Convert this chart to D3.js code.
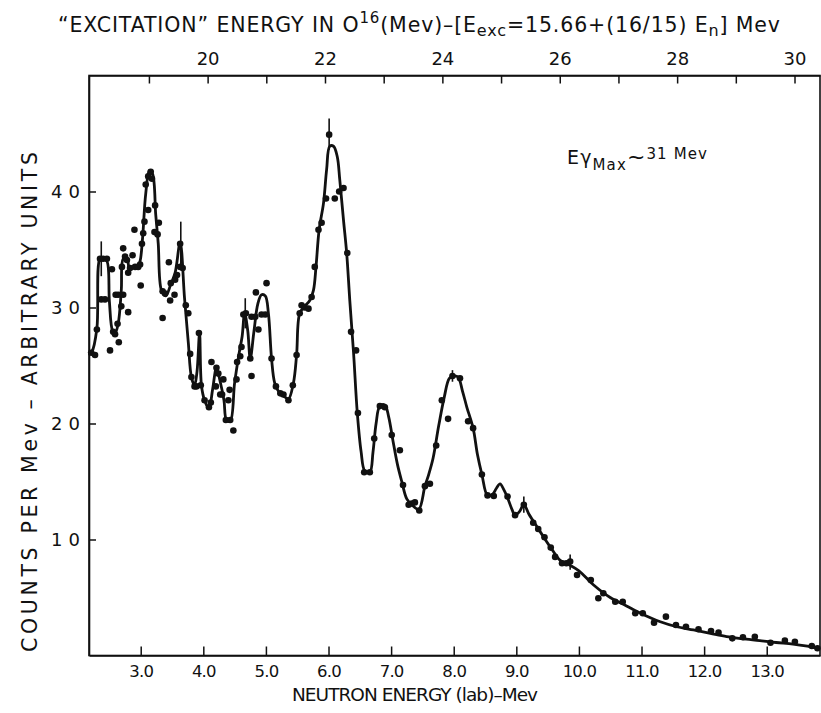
<!DOCTYPE html>
<html>
<head>
<meta charset="utf-8">
<script src="https://cdn.jsdelivr.net/npm/d3@7"></script>
<style>
  body { margin: 0; background: #fff; }
  text { font-family: "DejaVu Sans", sans-serif; fill: #111; }
</style>
</head>
<body>
<div id="app"></div>
<script>
// neutron energy (lab, MeV) and counts for the measured points
const pointEn = [
  2.21, 2.27, 2.30, 2.35, 2.40, 2.46, 2.37, 2.43, 2.51, 2.54, 2.56, 2.59, 2.60, 2.63, 2.64, 2.65,
  2.69, 2.70, 2.72, 2.72, 2.75, 2.78, 2.80, 2.80, 2.83, 2.87, 2.90, 2.91, 2.96, 2.99, 3.00, 3.02,
  3.04, 3.06, 3.08, 3.12, 3.16, 3.18, 3.12, 3.23, 3.29, 3.22, 3.27, 3.35, 3.39, 3.35, 3.45, 3.47,
  3.48, 3.54, 3.55, 3.58, 3.63, 3.63, 3.67, 3.72, 3.76, 3.79, 3.81, 3.86, 3.89, 3.93, 3.96, 4.02,
  4.09, 4.12, 4.13, 4.20, 4.21, 4.24, 4.27, 4.30, 4.32, 4.40, 4.36, 4.43, 4.42, 4.48, 4.53, 4.54,
  4.59, 4.61, 4.64, 4.68, 4.75, 4.77, 4.77, 4.83, 4.84, 4.88, 4.93, 4.99, 5.01, 5.09, 5.16, 5.23,
  5.28, 5.36, 5.43, 5.49, 5.54, 5.57, 5.62, 5.68, 5.73, 5.78, 5.84, 5.89, 5.96, 6.01, 6.10, 6.17,
  6.24, 6.30, 6.36, 6.44, 6.47, 6.57, 6.66, 6.73, 6.82, 6.90, 7.01, 7.14, 7.19, 7.28, 7.33, 7.38,
  7.45, 7.54, 7.62, 7.72, 7.81, 7.91, 7.98, 8.10, 8.23, 8.31, 8.45, 8.54, 8.64, 8.86, 8.98, 9.12,
  9.27, 9.35, 9.45, 9.55, 9.62, 9.73, 9.80, 9.86, 9.97, 10.19, 10.31, 10.39, 10.58, 10.70, 10.90, 11.02,
  11.20, 11.39, 11.55, 11.71, 11.91, 12.11, 12.23, 12.45, 12.62, 12.81, 13.06, 13.29, 13.45, 13.72, 13.81
];
const pointCounts = [
  26.1, 25.9, 28.1, 34.2, 34.2, 34.2, 30.7, 30.7, 26.3, 33.3, 27.9, 27.7, 31.1, 28.6, 31.1, 27.0,
  30.1, 33.5, 35.1, 31.1, 34.4, 34.1, 29.6, 33.0, 33.4, 34.5, 36.7, 33.5, 33.5, 33.7, 31.9, 35.5,
  36.4, 37.4, 40.6, 41.3, 41.7, 41.1, 38.4, 38.8, 37.3, 36.5, 36.3, 31.4, 31.2, 29.1, 33.9, 30.6,
  32.1, 31.1, 32.4, 32.8, 33.5, 35.5, 33.4, 30.2, 29.5, 26.0, 24.0, 23.2, 23.2, 27.8, 23.3, 22.0,
  21.4, 21.8, 25.3, 23.2, 24.8, 24.3, 22.5, 22.5, 23.8, 22.0, 20.3, 20.3, 22.9, 19.4, 23.8, 25.3,
  25.8, 26.6, 29.4, 29.5, 25.6, 24.1, 29.2, 29.2, 31.3, 28.1, 29.4, 29.4, 32.1, 25.6, 23.2, 22.6,
  22.5, 22.0, 23.3, 25.9, 29.5, 30.2, 30.0, 29.9, 30.9, 33.5, 36.7, 37.3, 39.4, 44.9, 39.4, 40.0,
  40.3, 34.7, 27.9, 26.3, 20.9, 15.8, 15.8, 18.7, 21.5, 21.4, 19.0, 17.7, 14.7, 13.0, 13.1, 13.2,
  12.5, 14.6, 14.8, 18.1, 22.0, 20.4, 24.1, 23.9, 20.2, 19.6, 15.6, 13.8, 13.75, 13.7, 12.1, 13.0,
  11.45, 10.9, 10.2, 9.3, 8.5, 7.95, 7.95, 8.1, 6.94, 6.5, 4.93, 5.36, 4.64, 4.64, 3.64, 3.64,
  2.83, 3.35, 2.63, 2.48, 2.26, 2.11, 1.97, 1.48, 1.57, 1.62, 1.10, 1.28, 1.19, 0.82, 0.62
];

// hand-drawn smooth curve through the data
const curveEn = [
  2.16, 2.22, 2.30, 2.35, 2.40, 2.46, 2.50, 2.55, 2.59, 2.64, 2.69, 2.72, 2.78, 2.82, 2.87, 2.95,
  2.99, 3.03, 3.08, 3.14, 3.19, 3.24, 3.28, 3.33, 3.40, 3.48, 3.55, 3.63, 3.70, 3.76, 3.81, 3.86,
  3.90, 3.94, 3.97, 4.02, 4.09, 4.15, 4.21, 4.27, 4.33, 4.37, 4.43, 4.50, 4.57, 4.62, 4.66, 4.71,
  4.75, 4.81, 4.87, 4.93, 4.99, 5.04, 5.09, 5.14, 5.21, 5.30, 5.36, 5.44, 5.49, 5.54, 5.62, 5.70,
  5.76, 5.80, 5.85, 5.92, 5.97, 6.02, 6.08, 6.14, 6.18, 6.24, 6.29, 6.34, 6.40, 6.46, 6.52, 6.58,
  6.66, 6.71, 6.76, 6.82, 6.90, 6.96, 7.03, 7.10, 7.17, 7.25, 7.33, 7.44, 7.54, 7.60, 7.67, 7.76,
  7.85, 7.93, 8.00, 8.07, 8.14, 8.21, 8.31, 8.38, 8.45, 8.54, 8.62, 8.68, 8.74, 8.80, 8.86, 8.93,
  8.98, 9.05, 9.12, 9.20, 9.33, 9.45, 9.55, 9.70, 9.85, 10.00, 10.23, 10.50, 10.76, 11.00, 11.30, 11.55,
  11.83, 12.10, 12.36, 12.60, 12.89, 13.15, 13.42, 13.65, 13.83
];
const curveCounts = [
  26.0, 26.2, 28.2, 34.2, 34.2, 34.0, 30.5, 28.0, 27.8, 28.6, 31.5, 34.2, 34.3, 33.3, 33.5, 33.5,
  34.0, 36.0, 39.8, 41.8, 41.5, 38.0, 35.5, 31.5, 31.0, 32.0, 33.0, 35.6, 30.8, 27.0, 24.0, 23.3,
  24.5, 27.8, 23.3, 22.0, 21.3, 23.0, 24.8, 23.6, 22.0, 20.3, 20.2, 23.5, 26.0, 27.5, 29.5, 28.0,
  25.6, 28.0, 30.3, 31.1, 31.0, 29.5, 25.6, 23.5, 22.7, 22.3, 22.1, 23.5, 25.9, 29.5, 30.1, 30.6,
  31.5, 33.5, 36.7, 39.0, 41.9, 43.9, 43.9, 43.0, 41.0, 37.5, 34.7, 30.6, 26.1, 20.9, 17.6, 15.9,
  15.8, 17.5, 20.0, 21.5, 21.6, 20.6, 18.5, 16.5, 15.0, 13.5, 13.0, 12.6, 14.6, 15.6, 17.0, 19.8,
  22.3, 23.9, 24.1, 24.0, 22.8, 21.4, 19.6, 17.3, 15.6, 13.8, 13.9, 14.4, 14.8, 14.3, 13.6, 12.6,
  12.1, 12.4, 13.0, 12.2, 11.1, 10.1, 9.3, 8.2, 7.8, 7.3, 6.1, 5.0, 4.27, 3.6, 2.91, 2.5,
  2.2, 1.9, 1.62, 1.45, 1.28, 1.12, 0.99, 0.8, 0.6
];

// points carrying a vertical error bar
const errEn = [2.37, 3.64, 4.67, 6.01, 7.98, 9.12, 9.86];
const errLo = [32.7, 33.6, 28.2, 43.6, 23.6, 12.3, 7.4];
const errHi = [35.7, 37.4, 30.8, 46.3, 24.6, 13.7, 8.7];

const xTicks = [3, 4, 5, 6, 7, 8, 9, 10, 11, 12, 13];
const excTicks = [19, 20, 21, 22, 23, 24, 25, 26, 27, 28, 29, 30];
const yTicks = [10, 20, 30, 40];

const W = 821, H = 713;
const mLeft = 89, mRight = 820, mTop = 75.5, mBottom = 655.5;
const enMin = 2.174, enMax = 13.851;
const exc = (en) => 15.66 + (16 / 15) * en;

const svg = d3.select("#app").append("svg").attr("width", W).attr("height", H);

const x = d3.scaleLinear().domain([enMin, enMax]).range([mLeft, mRight]);
const xTop = d3.scaleLinear().domain([exc(enMin), exc(enMax)]).range([mLeft, mRight]);
const y = d3.scaleLinear().domain([0, 50]).range([mBottom, mTop]);

//frame
svg.append("rect")
  .attr("x", mLeft).attr("y", mTop)
  .attr("width", mRight - mLeft).attr("height", mBottom - mTop)
  .attr("fill", "none").attr("stroke", "#111").attr("stroke-width", 1.6);

//bottom axis
const xAxis = svg.append("g")
  .attr("transform", `translate(0,${mBottom})`)
  .call(d3.axisBottom(x).tickValues(xTicks).tickSize(-9).tickSizeOuter(0).tickPadding(10)
    .tickFormat(d3.format(".1f")));

//top axis (excitation energy)
const topAxis = svg.append("g")
  .attr("transform", `translate(0,${mTop})`)
  .call(d3.axisTop(xTop).tickValues(excTicks).tickSize(-8).tickSizeOuter(0).tickPadding(11)
    .tickFormat((d) => (d % 2 === 0 ? d : "")));

//left axis
const yAxis = svg.append("g")
  .attr("transform", `translate(${mLeft},0)`)
  .call(d3.axisLeft(y).tickValues(yTicks).tickSize(-7).tickSizeOuter(0).tickPadding(9)
    .tickFormat(d3.format("d")));

[xAxis, topAxis, yAxis].forEach((g) => {
  g.select(".domain").attr("stroke", "#111").attr("stroke-width", 1.6);
  g.selectAll(".tick line").attr("stroke", "#111").attr("stroke-width", 1.5);
  g.selectAll(".tick text").style("font-family", '"DejaVu Sans", sans-serif').attr("fill", "#111");
});
xAxis.selectAll(".tick text").style("font-size", "16.5px").style("letter-spacing", "-0.8px");
topAxis.selectAll(".tick text").style("font-size", "18px");
yAxis.selectAll(".tick text").style("font-size", "18px").style("letter-spacing", "6px").attr("dx", "6px");

//curve
const curve = d3.line()
  .x((i) => x(curveEn[i]))
  .y((i) => y(curveCounts[i]))
  .curve(d3.curveCatmullRom.alpha(0.5));

svg.append("path")
  .attr("d", curve(d3.range(curveEn.length)))
  .attr("fill", "none")
  .attr("stroke", "#111")
  .attr("stroke-width", 2.8)
  .attr("stroke-linejoin", "round");

//error bars
svg.selectAll("line.err")
  .data(d3.range(errEn.length))
  .enter()
  .append("line")
  .attr("class", "err")
  .attr("x1", (i) => x(errEn[i])).attr("x2", (i) => x(errEn[i]))
  .attr("y1", (i) => y(errLo[i])).attr("y2", (i) => y(errHi[i]))
  .attr("stroke", "#111")
  .attr("stroke-width", 1.6);

//points
svg.selectAll("circle.pt")
  .data(d3.range(pointEn.length))
  .enter()
  .append("circle")
  .attr("class", "pt")
  .attr("cx", (i) => x(pointEn[i]))
  .attr("cy", (i) => y(pointCounts[i]))
  .attr("r", 3.3)
  .attr("fill", "#111");

//axis titles
svg.append("text")
  .attr("x", 292).attr("y", 701)
  .attr("textLength", 246).attr("lengthAdjust", "spacing")
  .style("font-size", "18.5px")
  .text("NEUTRON ENERGY (lab)–Mev");

svg.append("text")
  .attr("transform", "translate(37,402) rotate(-90)")
  .attr("x", -250).attr("y", 0)
  .attr("textLength", 500).attr("lengthAdjust", "spacing")
  .style("font-size", "20.5px")
  .text("COUNTS PER Mev – ARBITRARY UNITS");

//top title
const title = svg.append("text")
  .attr("x", 58).attr("y", 32)
  .attr("textLength", 722).attr("lengthAdjust", "spacing")
  .style("font-size", "20.5px");
title.append("tspan").text("“EXCITATION” ENERGY IN O");
title.append("tspan").attr("dy", -9).style("font-size", "15px").text("16");
title.append("tspan").attr("dy", 9).text("(Mev)–[E");
title.append("tspan").attr("dy", 4).style("font-size", "16px").text("exc");
title.append("tspan").attr("dy", -4).text("=15.66+(16/15) E");
title.append("tspan").attr("dy", 4).style("font-size", "16px").text("n");
title.append("tspan").attr("dy", -4).text("] Mev");

//annotation
const note = svg.append("text")
  .attr("x", 567).attr("y", 164)
  .attr("textLength", 140).attr("lengthAdjust", "spacing")
  .style("font-size", "19px");
note.append("tspan").text("Eγ");
note.append("tspan").attr("dy", 6).style("font-size", "15px").text("Max");
note.append("tspan").attr("dy", -6).style("font-size", "22px").text("~");
note.append("tspan").attr("dy", -5).style("font-size", "15px").text("31 Mev");
</script>
</body>
</html>
